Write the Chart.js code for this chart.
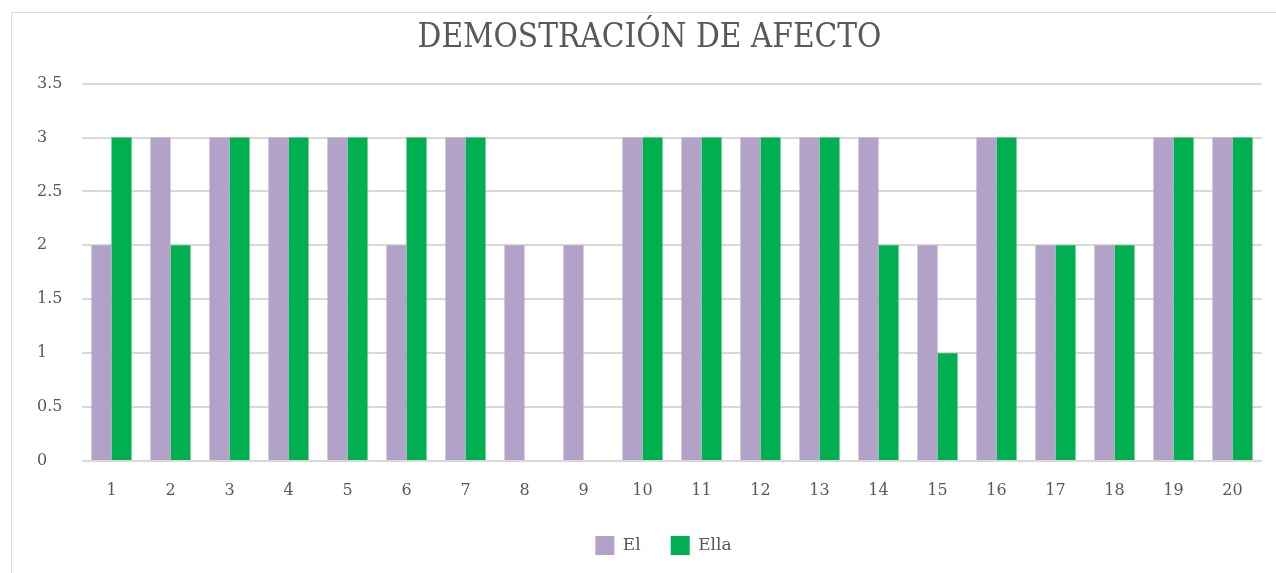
<!DOCTYPE html>
<html>
<head>
<meta charset="utf-8">
<script src="https://cdn.jsdelivr.net/npm/chart.js@4/dist/chart.umd.min.js"></script>
<style>
  html, body { margin: 0; padding: 0; background: #fff; }
  #frame { position: absolute; left: 11px; top: 12px; width: 1290px; height: 600px; border: 1px solid #d9d9d9; box-sizing: border-box; }
  #wrap { position: absolute; left: 0; top: 0; width: 1276px; height: 573px; }
</style>
</head>
<body>
<div id="frame"></div>
<div id="wrap"><canvas id="chart"></canvas></div>
<script>
const labels = ['1','2','3','4','5','6','7','8','9','10','11','12','13','14','15','16','17','18','19','20'];
const elValues   = [2, 3, 3, 3, 3, 2, 3, 2, 2, 3, 3, 3, 3, 3, 2, 3, 2, 2, 3, 3];
const ellaValues = [3, 2, 3, 3, 3, 3, 3, 0, 0, 3, 3, 3, 3, 2, 1, 3, 2, 2, 3, 3];
const yTicks = [0, 0.5, 1, 1.5, 2, 2.5, 3, 3.5];

const serif = "'DejaVu Serif', serif";

// legend sits centred on the plot area, not the whole canvas
const legendShift = {
    id: 'legendShift',
    afterLayout(chart) {
        chart.legend.left += 14;
        chart.legend.right += 14;
    }
};

new Chart(document.getElementById('chart'), {
    type: 'bar',
    plugins: [legendShift],
    data: {
        labels: labels,
        datasets: [
            { label: 'El', data: elValues, backgroundColor: '#b3a2c7' },
            { label: 'Ella', data: ellaValues, backgroundColor: '#00b050' }
        ]
    },
    options: {
        responsive: true,
        maintainAspectRatio: false,
        animation: false,
        categoryPercentage: 0.68,
        barPercentage: 1.0,
        layout: { padding: { left: 37, right: 14, top: 0, bottom: 8 } },
        plugins: {
            title: {
                display: true,
                text: 'DEMOSTRACIÓN DE AFECTO',
                color: '#595959',
                font: { family: "'DejaVu Serif Condensed', 'Liberation Serif', serif", size: 33, weight: 'normal' },
                padding: { top: 19, bottom: 25 }
            },
            legend: {
                position: 'bottom',
                labels: {
                    color: '#595959',
                    font: { family: serif, size: 17 },
                    boxWidth: 19,
                    boxHeight: 19,
                    padding: 30
                }
            },
            tooltip: { enabled: false }
        },
        scales: {
            x: {
                afterFit: axis => { axis.height = 45; },
                grid: { display: false, drawTicks: false },
                border: { display: false },
                ticks: { color: '#595959', font: { family: serif, size: 16 }, padding: 20 }
            },
            y: {
                min: 0,
                max: 3.5,
                afterBuildTicks: axis => { axis.ticks = yTicks.map(v => ({ value: v })); },
                afterFit: axis => { axis.width = 45; },
                grid: { color: '#d9d9d9', lineWidth: 2, drawTicks: false },
                border: { display: false },
                ticks: {
                    color: '#595959',
                    font: { family: serif, size: 16 },
                    crossAlign: 'far',
                    padding: 10,
                    callback: v => String(v)
                }
            }
        }
    }
});
</script>
</body>
</html>
